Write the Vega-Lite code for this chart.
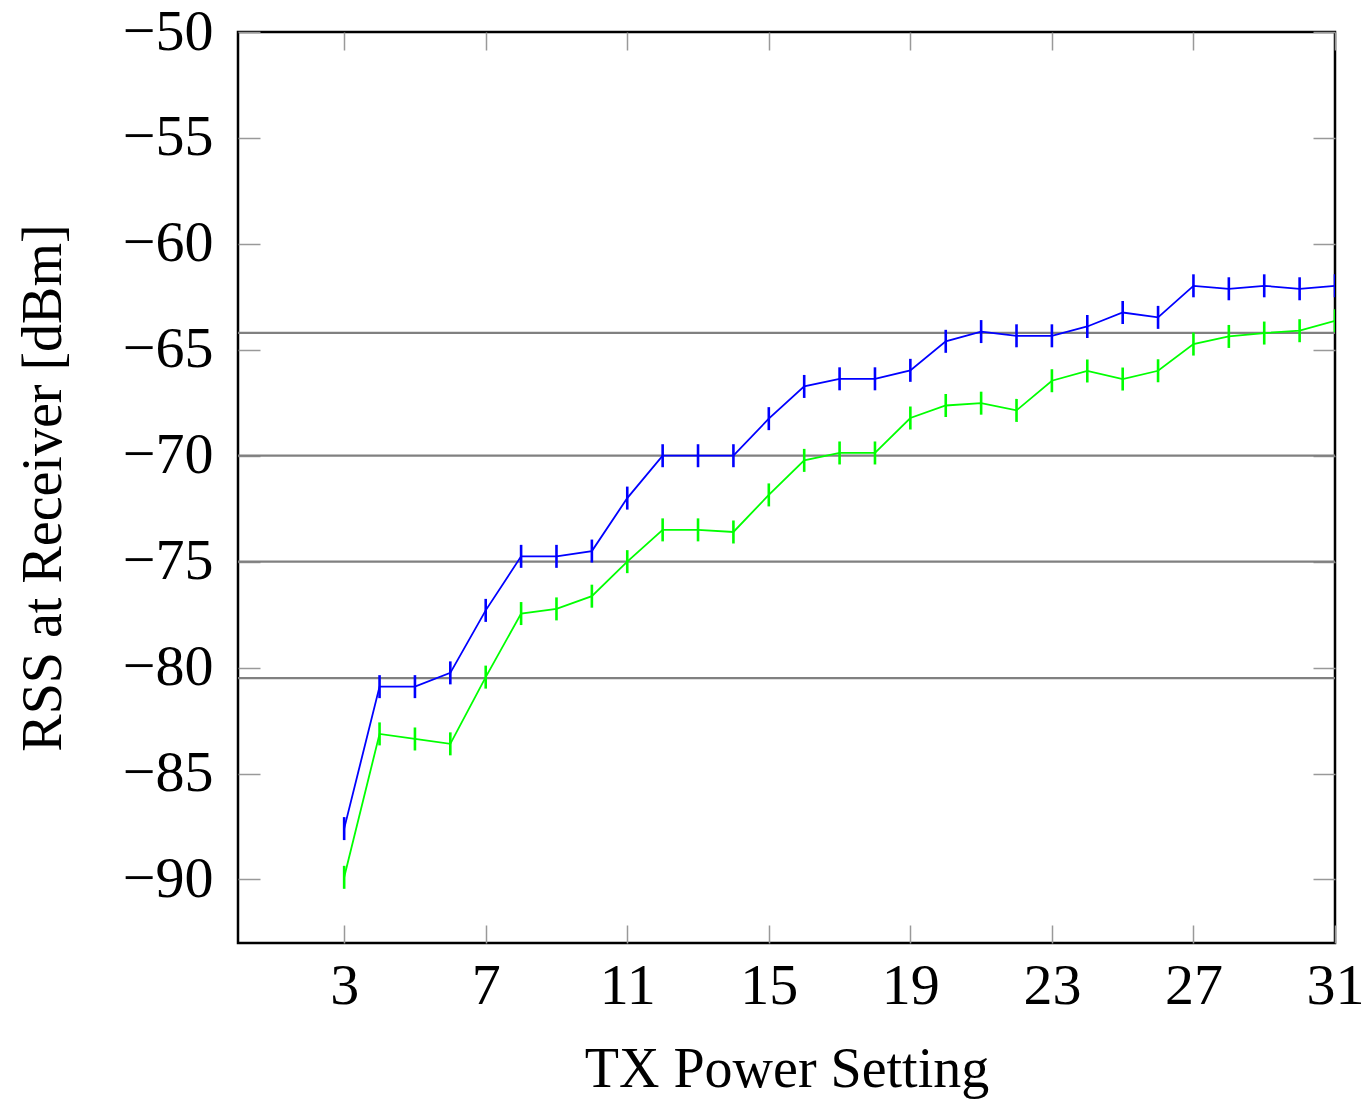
{
  "$schema": "https://vega.github.io/schema/vega-lite/v6.json",
  "width": 1097,
  "height": 911,
  "autosize": {"type": "none"},
  "padding": {"left": 238, "top": 32, "right": 28, "bottom": 157},
  "background": "white",
  "config": {
    "view": {"stroke": "black", "strokeWidth": 2.5},
    "axis": {
      "labelFont": "Liberation Serif",
      "titleFont": "Liberation Serif",
      "labelColor": "black",
      "titleColor": "black",
      "labelFontSize": 58,
      "titleFontSize": 56,
      "titleFontWeight": "normal",
      "labelFlush": false,
      "grid": false,
      "domain": false,
      "tickColor": "#999999",
      "tickWidth": 1.5
    }
  },
  "datasets": {
    "rss": [
      {"tx": 3, "series": "blue", "rss": -87.6},
      {"tx": 4, "series": "blue", "rss": -80.9},
      {"tx": 5, "series": "blue", "rss": -80.9},
      {"tx": 6, "series": "blue", "rss": -80.25},
      {"tx": 7, "series": "blue", "rss": -77.3},
      {"tx": 8, "series": "blue", "rss": -74.75},
      {"tx": 9, "series": "blue", "rss": -74.75},
      {"tx": 10, "series": "blue", "rss": -74.5},
      {"tx": 11, "series": "blue", "rss": -72.0},
      {"tx": 12, "series": "blue", "rss": -70.0},
      {"tx": 13, "series": "blue", "rss": -70.0},
      {"tx": 14, "series": "blue", "rss": -70.0},
      {"tx": 15, "series": "blue", "rss": -68.25},
      {"tx": 16, "series": "blue", "rss": -66.73},
      {"tx": 17, "series": "blue", "rss": -66.37},
      {"tx": 18, "series": "blue", "rss": -66.37},
      {"tx": 19, "series": "blue", "rss": -65.97},
      {"tx": 20, "series": "blue", "rss": -64.6},
      {"tx": 21, "series": "blue", "rss": -64.14},
      {"tx": 22, "series": "blue", "rss": -64.34},
      {"tx": 23, "series": "blue", "rss": -64.34},
      {"tx": 24, "series": "blue", "rss": -63.9},
      {"tx": 25, "series": "blue", "rss": -63.24},
      {"tx": 26, "series": "blue", "rss": -63.47},
      {"tx": 27, "series": "blue", "rss": -61.98},
      {"tx": 28, "series": "blue", "rss": -62.12},
      {"tx": 29, "series": "blue", "rss": -61.98},
      {"tx": 30, "series": "blue", "rss": -62.12},
      {"tx": 31, "series": "blue", "rss": -61.98},
      {"tx": 3, "series": "green", "rss": -89.9},
      {"tx": 4, "series": "green", "rss": -83.13},
      {"tx": 5, "series": "green", "rss": -83.37},
      {"tx": 6, "series": "green", "rss": -83.6},
      {"tx": 7, "series": "green", "rss": -80.45},
      {"tx": 8, "series": "green", "rss": -77.45},
      {"tx": 9, "series": "green", "rss": -77.23},
      {"tx": 10, "series": "green", "rss": -76.63},
      {"tx": 11, "series": "green", "rss": -75.0},
      {"tx": 12, "series": "green", "rss": -73.5},
      {"tx": 13, "series": "green", "rss": -73.5},
      {"tx": 14, "series": "green", "rss": -73.6},
      {"tx": 15, "series": "green", "rss": -71.85},
      {"tx": 16, "series": "green", "rss": -70.22},
      {"tx": 17, "series": "green", "rss": -69.87},
      {"tx": 18, "series": "green", "rss": -69.87},
      {"tx": 19, "series": "green", "rss": -68.22},
      {"tx": 20, "series": "green", "rss": -67.63},
      {"tx": 21, "series": "green", "rss": -67.52},
      {"tx": 22, "series": "green", "rss": -67.86},
      {"tx": 23, "series": "green", "rss": -66.46},
      {"tx": 24, "series": "green", "rss": -66.0},
      {"tx": 25, "series": "green", "rss": -66.38},
      {"tx": 26, "series": "green", "rss": -65.99},
      {"tx": 27, "series": "green", "rss": -64.73},
      {"tx": 28, "series": "green", "rss": -64.37},
      {"tx": 29, "series": "green", "rss": -64.21},
      {"tx": 30, "series": "green", "rss": -64.1},
      {"tx": 31, "series": "green", "rss": -63.63}
    ],
    "levels": [
      {"level": -64.2},
      {"level": -70},
      {"level": -75},
      {"level": -80.5}
    ]
  },
  "resolve": {"axis": {"x": "independent", "y": "independent"}},
  "layer": [
    {
      "layer": [
        {
          "data": {"name": "levels"},
          "mark": {"type": "rule", "color": "#808080", "strokeWidth": 2.2},
          "encoding": {
            "y": {"field": "level", "type": "quantitative", "scale": {"domain": [-93, -50], "nice": false, "zero": false}}
          }
        },
        {
          "data": {"name": "rss"},
          "mark": {"type": "line", "strokeWidth": 1.8, "clip": true},
          "encoding": {
            "x": {"field": "tx", "type": "quantitative"},
            "y": {"field": "rss", "type": "quantitative"},
            "color": {"field": "series", "type": "nominal", "scale": {"domain": ["blue", "green"], "range": ["#0000ff", "#00ff00"]}, "legend": null}
          }
        },
        {
          "data": {"name": "rss"},
          "mark": {"type": "tick", "orient": "vertical", "size": 23, "thickness": 2.6, "opacity": 1, "clip": true},
          "encoding": {
            "x": {"field": "tx", "type": "quantitative"},
            "y": {"field": "rss", "type": "quantitative"},
            "color": {"field": "series", "type": "nominal", "legend": null}
          }
        }
      ],
      "encoding": {
        "x": {
          "type": "quantitative",
          "scale": {"domain": [0, 31], "nice": false, "zero": false},
          "axis": {"orient": "bottom", "values": [3, 7, 11, 15, 19, 23, 27, 31], "tickSize": -18, "labelPadding": 32, "title": "TX Power Setting", "titlePadding": 27}
        },
        "y": {
          "type": "quantitative",
          "scale": {"domain": [-93, -50], "nice": false, "zero": false},
          "axis": {"orient": "left", "values": [-90, -85, -80, -75, -70, -65, -60, -55, -50], "tickSize": -22, "labelPadding": 47, "title": "RSS at Receiver [dBm]", "titlePadding": 50}
        }
      }
    },
    {
      "data": {"name": "rss"},
      "mark": {"type": "point", "opacity": 0},
      "encoding": {
        "x": {
          "field": "tx", "type": "quantitative",
          "scale": {"domain": [0, 31], "nice": false, "zero": false},
          "axis": {"orient": "top", "values": [3, 7, 11, 15, 19, 23, 27, 31], "tickSize": -18, "labels": false, "title": null}
        },
        "y": {
          "field": "rss", "type": "quantitative",
          "scale": {"domain": [-93, -50], "nice": false, "zero": false},
          "axis": {"orient": "right", "values": [-90, -85, -80, -75, -70, -65, -60, -55, -50], "tickSize": -22, "labels": false, "title": null}
        }
      }
    }
  ]
}
